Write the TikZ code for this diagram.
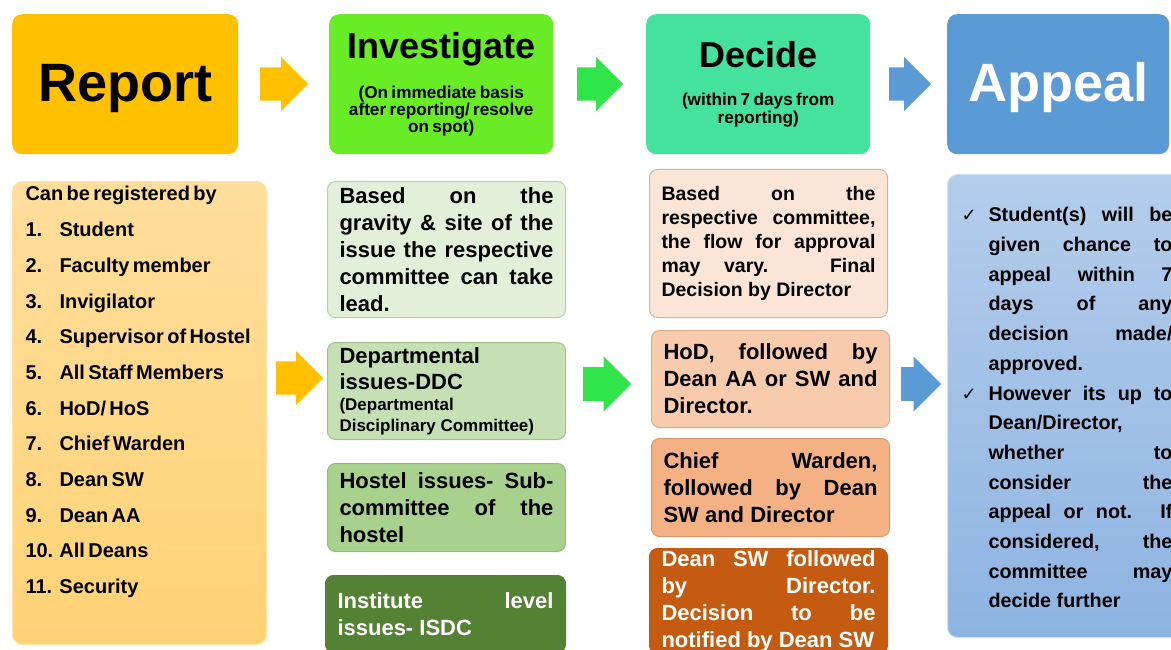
\documentclass[tikz,border=0pt]{standalone}
\usepackage{fontspec}
\setmainfont{Liberation Sans}
\newfontfamily\checkfont{DejaVu Sans}
\usetikzlibrary{shapes.arrows}
\definecolor{reportc}{HTML}{FFC000}
\definecolor{investc}{HTML}{68EC26}
\definecolor{decidec}{HTML}{44E29C}
\definecolor{appealc}{HTML}{5B9BD5}
\definecolor{greenarrow}{HTML}{2FE54A}
\definecolor{listtop}{HTML}{FFDE9C}
\definecolor{listbottom}{HTML}{FFD275}
\definecolor{listline}{HTML}{FFE3A8}
\definecolor{gbox1}{HTML}{E2F0D9}
\definecolor{gline1}{HTML}{B5D3A2}
\definecolor{gbox2}{HTML}{C5E0B4}
\definecolor{gline2}{HTML}{A2C48C}
\definecolor{gbox3}{HTML}{A9D18E}
\definecolor{gline3}{HTML}{93BB78}
\definecolor{gbox4}{HTML}{548235}
\definecolor{dbox1}{HTML}{FBE5D6}
\definecolor{dline1}{HTML}{C4BBA0}
\definecolor{dbox2}{HTML}{F8CBAD}
\definecolor{dline2}{HTML}{D8AE8A}
\definecolor{dbox3}{HTML}{F4B183}
\definecolor{dline3}{HTML}{D99A6C}
\definecolor{dbox4}{HTML}{C55A11}
\definecolor{appealtop}{HTML}{B4CDEB}
\definecolor{appealbottom}{HTML}{8EB4E2}
\definecolor{appealline}{HTML}{D0DFF2}
\hbadness=10000
\hyphenpenalty=10000
\newcommand{\chk}{\makebox[27pt][l]{\checkfont\mdseries\fontsize{18}{18}\selectfont ✓}}
\newcommand{\notefont}[1]{\fontsize{17.2}{#1}\selectfont\lineskiplimit=-100pt}
\tikzstyle{every node} = [font=\bfseries]
\tikzstyle{headbox} = [rectangle, anchor=north west, rounded corners=10, minimum height=140, inner sep=0, text width=210, align=center]
\tikzstyle{itembox} = [rectangle, anchor=north west, rounded corners=8, line width=1, text width=214, inner xsep=12, inner ysep=0, align=justify, font=\bfseries\fontsize{22}{27}\selectfont]
\tikzstyle{blockarrow} = [single arrow, anchor=tail, minimum height=48, minimum width=54, single arrow head extend=10.5, inner xsep=0, inner ysep=16.5]

\begin{document}
\begin{tikzpicture}[x=1pt, y=-1pt]
    \useasboundingbox (0,0) rectangle (1171,650);
    \clip (0,0) rectangle (1171,650);
    \node[headbox, fill=reportc, minimum width=226, text height=40, text depth=6, font=\bfseries\fontsize{54}{60}\selectfont] (report) at (12,14) {Report};
    \node[headbox, fill=investc, minimum width=224] (investigate) at (329,14)
        {{\fontsize{36}{40}\selectfont Investigate\par}\vspace{23pt}
         {\notefont{17}(On immediate basis\\ after reporting/ resolve\\ on spot)\par}};
    \node[headbox, fill=decidec, minimum width=224] (decide) at (646,14)
        {{\fontsize{36}{40}\selectfont Decide\par}\vspace{20.5pt}
         {\notefont{17.5}(within 7 days from\\ reporting)\par}};
    \node[headbox, fill=appealc, minimum width=222, text=white, text height=40, text depth=6, font=\bfseries\fontsize{54}{60}\selectfont] (appeal) at (947,14) {Appeal};
    \node[blockarrow, fill=reportc] (arrow1) at (260,84) {};
    \node[blockarrow, fill=greenarrow, minimum height=46] (arrow2) at (577,84) {};
    \node[blockarrow, fill=appealc, minimum height=42] (arrow3) at (889,84) {};

    \node[rectangle, anchor=north west, rounded corners=10, draw=listline, line width=1, top color=listtop, bottom color=listbottom,
          minimum width=254, minimum height=463, inner xsep=13, inner ysep=5, text width=228] (register) at (12,181)
        {\parbox[c][453pt][t]{228pt}{\fontsize{20}{35.7}\selectfont
         Can be registered by\\
         \makebox[34pt][l]{1.}Student\\
         \makebox[34pt][l]{2.}Faculty member\\
         \makebox[34pt][l]{3.}Invigilator\\
         \makebox[34pt][l]{4.}Supervisor of Hostel\\
         \makebox[34pt][l]{5.}All Staff Members\\
         \makebox[34pt][l]{6.}HoD/ HoS\\
         \makebox[34pt][l]{7.}Chief Warden\\
         \makebox[34pt][l]{8.}Dean SW\\
         \makebox[34pt][l]{9.}Dean AA\\
         \makebox[34pt][l]{10.}All Deans\\
         \makebox[34pt][l]{11.}Security}};
    \node[blockarrow, fill=reportc, minimum height=47, minimum width=53] (arrow4) at (276,378) {};

    \node[itembox, fill=gbox1, draw=gline1, minimum height=136] (gravity) at (327,181)
        {Based on the\linebreak gravity \& site of the\linebreak issue the respective\linebreak committee can take\linebreak lead.};
    \node[itembox, fill=gbox2, draw=gline2, minimum height=97] (ddc) at (327,342)
        {{\fontsize{22}{26}\selectfont Departmental\\ issues-DDC\par}
         {\fontsize{17}{21}\selectfont (Departmental\\ Disciplinary Committee)\par}};
    \node[itembox, fill=gbox3, draw=gline3, minimum height=88] (hostel) at (327,463)
        {Hostel issues- Sub-\linebreak committee of the\linebreak hostel};
    \node[itembox, fill=gbox4, draw=gbox4, text=white, minimum height=77, text width=216] (isdc) at (325,575)
        {Institute level\linebreak issues- ISDC};
    \node[blockarrow, fill=greenarrow, minimum width=55] (arrow5) at (583,384) {};

    \node[itembox, fill=dbox1, draw=dline1, minimum height=148, font=\bfseries\fontsize{19.5}{24}\selectfont] (flow) at (649,169)
        {Based on the\linebreak respective committee,\linebreak the flow for approval\linebreak may vary. Final\linebreak Decision by Director};
    \node[itembox, fill=dbox2, draw=dline2, minimum height=97] (hod) at (651,330)
        {HoD, followed by\linebreak Dean AA or SW and\linebreak Director.};
    \node[itembox, fill=dbox3, draw=dline3, minimum height=98] (warden) at (651,438)
        {Chief Warden,\linebreak followed by Dean\linebreak SW and Director};
    \node[itembox, fill=dbox4, draw=dbox4, text=white, minimum height=105] (deansw) at (649,548)
        {Dean SW followed\linebreak by Director.\linebreak Decision to be\linebreak notified by Dean SW};
    \node[blockarrow, fill=appealc, minimum height=40, minimum width=55] (arrow6) at (901,384) {};

    \node[itembox, rounded corners=10, draw=appealline, top color=appealtop, bottom color=appealbottom, minimum height=463,
          text width=211, inner xsep=14, inner ysep=5] (rights) at (947,174)
        {\parbox[c][453pt][t]{211pt}{\fontsize{19.8}{29.7}\selectfont\vspace*{28pt}
         \hangindent=27pt\hangafter=1\chk Student(s) will be\linebreak given chance to\linebreak appeal within 7\linebreak days of any\linebreak decision made/\linebreak approved.\par
         \hangindent=27pt\hangafter=1\chk However its up to\linebreak Dean/Director,\linebreak whether to\linebreak consider the\linebreak appeal or not. If\linebreak considered, the\linebreak committee may\linebreak decide further\par}};
\end{tikzpicture}
\end{document}
